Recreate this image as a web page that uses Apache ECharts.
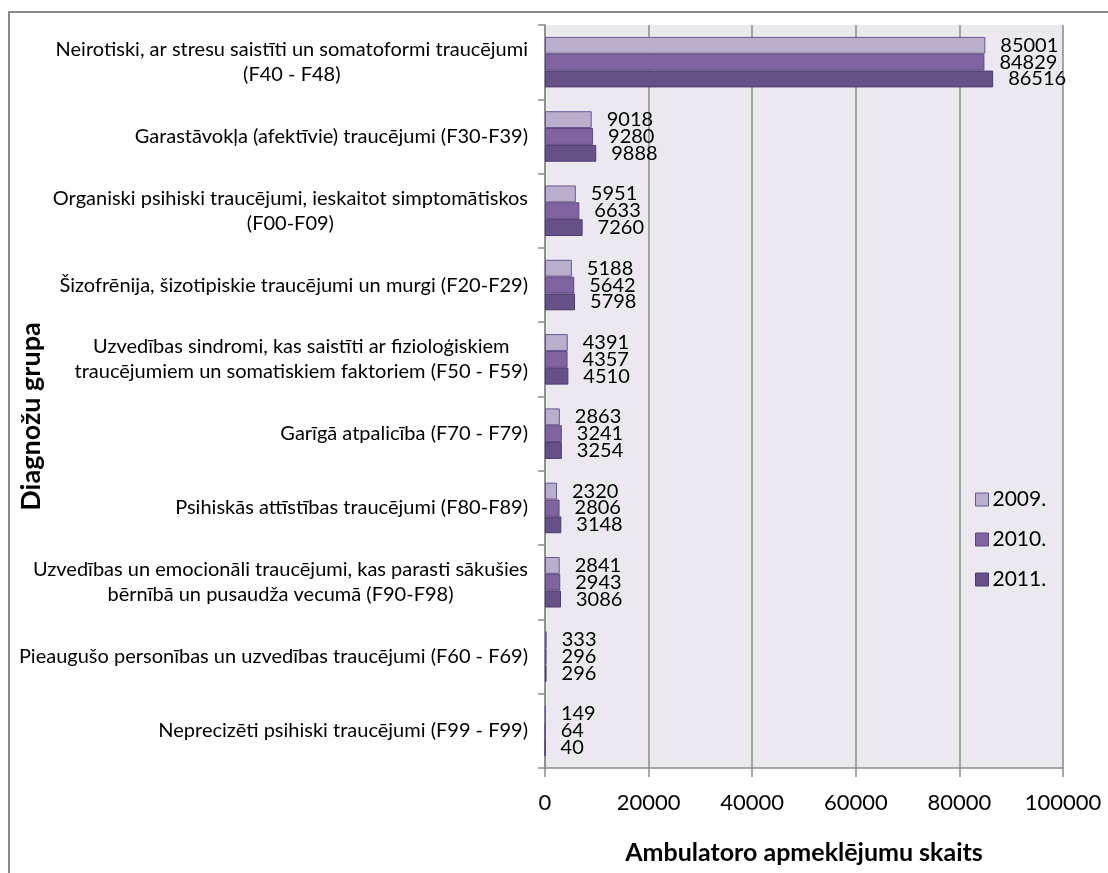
<!DOCTYPE html>
<html>
<head>
<meta charset="utf-8">
<script src="https://cdn.jsdelivr.net/npm/echarts@6/dist/echarts.min.js"></script>
<style>
  html, body { margin: 0; padding: 0; background: #ffffff; }
  #frame { position: absolute; left: 8px; top: 11px; width: 1200px; height: 900px;
           border-left: 2px solid #8a8a8a; border-top: 2px solid #8a8a8a; }
  #chart { position: absolute; left: 0; top: 0; width: 1108px; height: 873px; }
</style>
</head>
<body>
<div id="frame"></div>
<div id="chart"></div>
<script>
// Diagnosis groups (top to bottom)
const categories = [
  "Neirotiski, ar stresu saistīti un somatoformi traucējumi\n(F40 - F48)",
  "Garastāvokļa (afektīvie) traucējumi (F30-F39)",
  "Organiski psihiski traucējumi, ieskaitot simptomātiskos\n(F00-F09)",
  "Šizofrēnija, šizotipiskie traucējumi un murgi (F20-F29)",
  "Uzvedības sindromi, kas saistīti ar fizioloģiskiem\ntraucējumiem un somatiskiem faktoriem (F50 - F59)",
  "Garīgā atpalicība (F70 - F79)",
  "Psihiskās attīstības traucējumi (F80-F89)",
  "Uzvedības un emocionāli traucējumi, kas parasti sākušies\nbērnībā un pusaudža vecumā (F90-F98)",
  "Pieaugušo personības un uzvedības traucējumi (F60 - F69)",
  "Neprecizēti psihiski traucējumi (F99 - F99)"
];

// Outpatient visits per year
const years = ["2009.", "2010.", "2011."];
const visits2009 = [85001, 9018, 5951, 5188, 4391, 2863, 2320, 2841, 333, 149];
const visits2010 = [84829, 9280, 6633, 5642, 4357, 3241, 2806, 2943, 296, 64];
const visits2011 = [86516, 9888, 7260, 5798, 4510, 3254, 3148, 3086, 296, 40];

const xTicks = { min: 0, max: 100000, interval: 20000 };

const FONT = "Lato, 'Open Sans', sans-serif";
const fills = ["#b9aecc", "#8064a2", "#665088"];
const edges = ["#6b5690", "#5d4780", "#4e3b6e"];

const chart = echarts.init(document.getElementById("chart"), null, { renderer: "canvas" });

function barSeries(name, data, i) {
  return {
    name: name,
    type: "bar",
    data: data,
    barGap: "0%",
    barCategoryGap: "32%",
    itemStyle: { color: fills[i], borderColor: edges[i], borderWidth: 1 },
    label: {
      show: true,
      position: "right",
      distance: 15,
      color: "#000",
      fontFamily: FONT,
      fontSize: 20,
      lineHeight: 17
    },
    emphasis: { disabled: true },
    animation: false
  };
}

chart.setOption({
  backgroundColor: "transparent",
  animation: false,
  grid: { left: 545, right: 45, top: 25, bottom: 105, containLabel: false,
          outerBoundsMode: "none",
          show: true, backgroundColor: "#ebe9ef", borderWidth: 0 },
  legend: {
    orient: "vertical",
    left: 970, top: 484,
    itemWidth: 13, itemHeight: 13, itemGap: 19,
    icon: "rect",
    textStyle: { fontFamily: FONT, fontSize: 21, color: "#000", padding: [0, 0, 0, -1] },
    data: years.map((y, i) => ({ name: y, itemStyle: { color: fills[i], borderColor: edges[i], borderWidth: 1 } }))
  },
  xAxis: {
    type: "value",
    min: xTicks.min, max: xTicks.max, interval: xTicks.interval,
    name: "Ambulatoro apmeklējumu skaits",
    nameLocation: "middle",
    nameGap: 72,
    nameMoveOverlap: false,
    nameTextStyle: { fontFamily: FONT, fontSize: 25, fontWeight: "bold", color: "#000" },
    axisLine: { show: true, lineStyle: { color: "#8a8a8a", width: 1.5 } },
    axisTick: { show: true, length: 9, lineStyle: { color: "#8a8a8a", width: 1.5 } },
    axisLabel: { fontFamily: FONT, fontSize: 22, color: "#000", margin: 24, formatter: v => String(v) },
    splitLine: { show: true, lineStyle: { color: "#8a8a8a", width: 1.5 } }
  },
  yAxis: {
    type: "category",
    inverse: true,
    data: categories,
    name: "Diagnožu grupa",
    nameLocation: "middle",
    nameGap: 500,
    nameMoveOverlap: false,
    nameTextStyle: { fontFamily: FONT, fontSize: 27, fontWeight: "bold", color: "#000", padding: [0, 40, 0, 0] },
    axisLine: { show: true, lineStyle: { color: "#8a8a8a", width: 1.5 } },
    axisTick: { show: true, length: 7, lineStyle: { color: "#8a8a8a", width: 1.5 } },
    axisLabel: {
      margin: 17,
      interval: 0,
      align: "right",
      formatter: v => v.split("\n").map(s => "{c|" + s + "}").join("\n"),
      rich: { c: { align: "center", fontFamily: FONT, fontSize: 20, lineHeight: 25, color: "#000" } }
    },
    splitLine: { show: false }
  },
  series: [
    barSeries(years[0], visits2009, 0),
    barSeries(years[1], visits2010, 1),
    barSeries(years[2], visits2011, 2)
  ]
});
</script>
</body>
</html>
